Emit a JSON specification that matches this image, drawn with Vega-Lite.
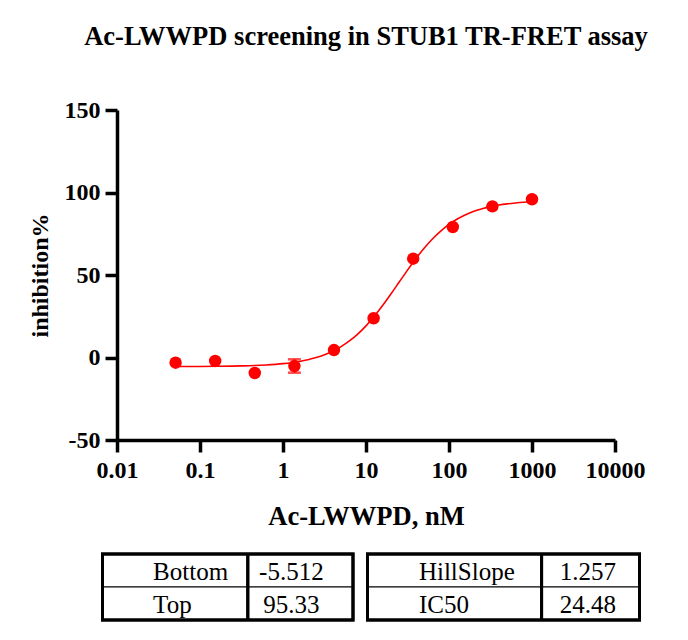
{
  "$schema": "https://vega.github.io/schema/vega-lite/v6.json",
  "padding": {"left": 28, "top": 23, "right": 5, "bottom": 5},
  "background": "white",
  "config": {
    "view": {"stroke": null},
    "font": "Liberation Serif, Times New Roman, Times, serif",
    "text": {"font": "Liberation Serif, Times New Roman, Times, serif"},
    "title": {"font": "Liberation Serif, Times New Roman, Times, serif"},
    "axis": {
      "labelFont": "Liberation Serif, Times New Roman, Times, serif", "labelFontSize": 24, "labelFontWeight": "bold", "labelColor": "black",
      "titleFont": "Liberation Serif, Times New Roman, Times, serif", "titleFontSize": 26.5, "titleFontWeight": "bold", "titleColor": "black",
      "domainColor": "black", "domainWidth": 3.5, "tickColor": "black", "tickWidth": 3.5, "tickSize": 12,
      "grid": false
    }
  },
  "datasets": {
    "points": [
      {"conc": 0.0508, "inh": -3.15},
      {"conc": 0.1524, "inh": -2.1},
      {"conc": 0.4572, "inh": -9.4},
      {"conc": 1.372, "inh": -5.2},
      {"conc": 4.115, "inh": 4.5},
      {"conc": 12.35, "inh": 23.8},
      {"conc": 37.04, "inh": 59.9},
      {"conc": 111.1, "inh": 79.1},
      {"conc": 333.3, "inh": 91.6},
      {"conc": 1000, "inh": 95.9}
    ],
    "errs": [
      {"conc": 1.372, "lo": -9.2, "hi": -1.1}
    ],
    "curve": [
      {"conc": 0.0501, "fit": -5.47},
      {"conc": 0.1, "fit": -5.41},
      {"conc": 0.1585, "fit": -5.33},
      {"conc": 0.3162, "fit": -5.09},
      {"conc": 0.631, "fit": -4.51},
      {"conc": 1, "fit": -3.73},
      {"conc": 1.259, "fit": -3.15},
      {"conc": 1.585, "fit": -2.38},
      {"conc": 1.995, "fit": -1.37},
      {"conc": 2.512, "fit": -0.06},
      {"conc": 3.162, "fit": 1.64},
      {"conc": 3.981, "fit": 3.82},
      {"conc": 5.012, "fit": 6.58},
      {"conc": 6.31, "fit": 10.01},
      {"conc": 7.943, "fit": 14.2},
      {"conc": 10, "fit": 19.19},
      {"conc": 12.59, "fit": 24.98},
      {"conc": 15.85, "fit": 31.47},
      {"conc": 19.95, "fit": 38.47},
      {"conc": 25.12, "fit": 45.73},
      {"conc": 31.62, "fit": 52.96},
      {"conc": 39.81, "fit": 59.86},
      {"conc": 50.12, "fit": 66.2},
      {"conc": 63.1, "fit": 71.81},
      {"conc": 79.43, "fit": 76.62},
      {"conc": 100, "fit": 80.64},
      {"conc": 125.9, "fit": 83.92},
      {"conc": 158.5, "fit": 86.54},
      {"conc": 199.5, "fit": 88.6},
      {"conc": 251.2, "fit": 90.2},
      {"conc": 316.2, "fit": 91.44},
      {"conc": 398.1, "fit": 92.39},
      {"conc": 501.2, "fit": 93.12},
      {"conc": 631, "fit": 93.66},
      {"conc": 794.3, "fit": 94.08},
      {"conc": 1000, "fit": 94.39}
    ],
    "t1": [
      {"r": 1, "name": "Bottom", "value": "-5.512"},
      {"r": 2, "name": "Top", "value": "95.33"}
    ],
    "t2": [
      {"r": 1, "name": "HillSlope", "value": "1.257"},
      {"r": 2, "name": "IC50", "value": "24.48"}
    ]
  },
  "spacing": 22,
  "vconcat": [
    {
      "width": 498,
      "height": 330,
      "title": {
        "text": "Ac-LWWPD screening in STUB1 TR-FRET assay",
        "frame": "group", "anchor": "middle",
        "fontSize": 26.5, "fontWeight": "bold", "color": "black",
        "offset": 48
      },
      "layer": [
        {
          "data": {"name": "curve"},
          "mark": {"type": "line", "color": "#ff0000", "strokeWidth": 1.6, "interpolate": "monotone"},
          "encoding": {
            "x": {
              "field": "conc", "type": "quantitative",
              "scale": {"type": "log", "domain": [0.01, 10000], "nice": false},
              "axis": {"values": [0.01, 0.1, 1, 10, 100, 1000, 10000], "labelExpr": "'' + datum.value", "title": "Ac-LWWPD, nM", "labelPadding": 6, "titlePadding": 21, "labelFlush": false, "labelOverlap": false}
            },
            "y": {
              "field": "fit", "type": "quantitative",
              "scale": {"domain": [-50, 150], "nice": false, "zero": false},
              "axis": {"values": [-50, 0, 50, 100, 150], "labelExpr": "'' + datum.value", "title": "inhibition%", "titleFontSize": 24, "labelPadding": 5, "titlePadding": 12}
            }
          }
        },
        {
          "data": {"name": "errs"},
          "mark": {"type": "rule", "color": "#ff0000", "strokeWidth": 2},
          "encoding": {
            "x": {"field": "conc", "type": "quantitative"},
            "y": {"field": "lo", "type": "quantitative"},
            "y2": {"field": "hi"}
          }
        },
        {
          "data": {"name": "errs"},
          "mark": {"type": "tick", "color": "#ff0000", "orient": "horizontal", "size": 13, "thickness": 2.5},
          "encoding": {
            "x": {"field": "conc", "type": "quantitative"},
            "y": {"field": "lo", "type": "quantitative"}
          }
        },
        {
          "data": {"name": "errs"},
          "mark": {"type": "tick", "color": "#ff0000", "orient": "horizontal", "size": 13, "thickness": 2.5},
          "encoding": {
            "x": {"field": "conc", "type": "quantitative"},
            "y": {"field": "hi", "type": "quantitative"}
          }
        },
        {
          "data": {"name": "points"},
          "mark": {"type": "circle", "color": "#ff0000", "opacity": 1, "size": 155},
          "encoding": {
            "x": {"field": "conc", "type": "quantitative"},
            "y": {"field": "inh", "type": "quantitative"}
          }
        }
      ]
    },
    {
      "spacing": 10.5,
      "hconcat": [
        {
          "width": 236,
          "height": 66,
          "data": {"name": "t1"},
          "layer": [
            {
              "mark": {"type": "rect", "fill": "white", "stroke": "black", "strokeWidth": 1},
              "encoding": {
                "x": {"datum": 0, "type": "quantitative", "scale": {"domain": [0, 1], "range": [-14.5, 236], "zero": false, "nice": false}, "axis": null},
                "x2": {"datum": 1},
                "y": {"field": "r", "type": "ordinal", "scale": {"paddingInner": 0, "paddingOuter": 0}, "axis": null}
              }
            },
            {
              "mark": {"type": "rect", "fill": null, "stroke": "black", "strokeWidth": 3},
              "encoding": {
                "x": {"datum": 0, "type": "quantitative", "scale": {"domain": [0, 1], "range": [-14.5, 236], "zero": false, "nice": false}},
                "x2": {"datum": 1}
              }
            },
            {
              "mark": {"type": "rule", "color": "black", "strokeWidth": 3},
              "encoding": {"x": {"datum": 0.58, "type": "quantitative", "scale": {"domain": [0, 1], "range": [-14.5, 236], "zero": false, "nice": false}}}
            },
            {
              "mark": {"type": "text", "align": "left", "baseline": "middle", "fontSize": 25, "color": "black", "dy": 1},
              "encoding": {
                "x": {"datum": 0.202, "type": "quantitative", "scale": {"domain": [0, 1], "range": [-14.5, 236], "zero": false, "nice": false}},
                "y": {"field": "r", "type": "ordinal", "axis": null},
                "text": {"field": "name"}
              }
            },
            {
              "mark": {"type": "text", "align": "center", "baseline": "middle", "fontSize": 25, "color": "black", "dy": 1},
              "encoding": {
                "x": {"datum": 0.754, "type": "quantitative", "scale": {"domain": [0, 1], "range": [-14.5, 236], "zero": false, "nice": false}},
                "y": {"field": "r", "type": "ordinal", "axis": null},
                "text": {"field": "value"}
              }
            }
          ]
        },
        {
          "width": 272,
          "height": 66,
          "data": {"name": "t2"},
          "layer": [
            {
              "mark": {"type": "rect", "fill": "white", "stroke": "black", "strokeWidth": 1},
              "encoding": {
                "x": {"datum": 0, "type": "quantitative", "scale": {"domain": [0, 1]}, "axis": null},
                "x2": {"datum": 1},
                "y": {"field": "r", "type": "ordinal", "scale": {"paddingInner": 0, "paddingOuter": 0}, "axis": null}
              }
            },
            {
              "mark": {"type": "rect", "fill": null, "stroke": "black", "strokeWidth": 3},
              "encoding": {
                "x": {"datum": 0, "type": "quantitative"},
                "x2": {"datum": 1}
              }
            },
            {
              "mark": {"type": "rule", "color": "black", "strokeWidth": 3},
              "encoding": {"x": {"datum": 0.64, "type": "quantitative"}}
            },
            {
              "mark": {"type": "text", "align": "left", "baseline": "middle", "fontSize": 25, "color": "black", "dy": 1},
              "encoding": {
                "x": {"datum": 0.189, "type": "quantitative"},
                "y": {"field": "r", "type": "ordinal", "axis": null},
                "text": {"field": "name"}
              }
            },
            {
              "mark": {"type": "text", "align": "center", "baseline": "middle", "fontSize": 25, "color": "black", "dy": 1},
              "encoding": {
                "x": {"datum": 0.81, "type": "quantitative"},
                "y": {"field": "r", "type": "ordinal", "axis": null},
                "text": {"field": "value"}
              }
            }
          ]
        }
      ]
    }
  ]
}
